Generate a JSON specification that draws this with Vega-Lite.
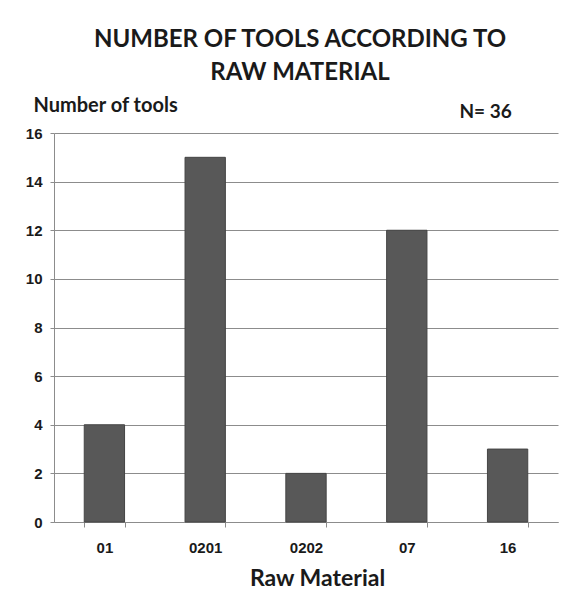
{
  "$schema": "https://vega.github.io/schema/vega-lite/v6.json",
  "autosize": {"type": "none"},
  "width": 504,
  "height": 389,
  "padding": {"left": 54, "top": 133, "right": 23, "bottom": 81},
  "background": "white",
  "title": {
    "text": ["NUMBER OF TOOLS ACCORDING TO", "RAW MATERIAL"],
    "font": "Lato",
    "fontSize": 24,
    "fontWeight": "bold",
    "color": "#1a1a1a",
    "lineHeight": 33,
    "anchor": "middle",
    "dx": -6,
    "offset": 10
  },
  "data": {
    "values": [
      {"material": "01", "count": 4},
      {"material": "0201", "count": 15},
      {"material": "0202", "count": 2},
      {"material": "07", "count": 12},
      {"material": "16", "count": 3}
    ]
  },
  "layer": [
    {
      "mark": {"type": "bar", "color": "#585858", "stroke": "#444444", "strokeWidth": 1},
      "encoding": {
        "x": {
          "field": "material",
          "type": "nominal",
          "sort": null,
          "scale": {"paddingInner": 0.6, "paddingOuter": 0.3},
          "axis": {
            "title": "Raw Material",
            "titleFont": "Lato",
            "titleFontSize": 23,
            "titleFontWeight": "bold",
            "titleColor": "#1a1a1a",
            "titleX": 263,
            "titleY": 63,
            "titleAlign": "center",
            "titleBaseline": "alphabetic",
            "labelAngle": 0,
            "labelFont": "Liberation Sans",
            "labelFontSize": 15,
            "labelFontWeight": "bold",
            "labelColor": "#1a1a1a",
            "labelPadding": 13,
            "tickBand": "extent",
            "tickSize": 5,
            "tickColor": "#8c8c8c",
            "domainColor": "#8c8c8c",
            "grid": false
          }
        },
        "y": {
          "field": "count",
          "type": "quantitative",
          "scale": {"domain": [0, 16], "nice": false},
          "axis": {
            "title": "Number of tools",
            "titleFont": "Lato",
            "titleFontSize": 20,
            "titleFontWeight": "bold",
            "titleColor": "#1a1a1a",
            "titleAngle": 0,
            "titleAlign": "left",
            "titleBaseline": "alphabetic",
            "titleX": -21,
            "titleY": -22,
            "values": [0, 2, 4, 6, 8, 10, 12, 14, 16],
            "labelFont": "Liberation Sans",
            "labelFontSize": 15,
            "labelFontWeight": "bold",
            "labelColor": "#1a1a1a",
            "labelPadding": 8,
            "tickSize": 4,
            "tickColor": "#8c8c8c",
            "domainColor": "#8c8c8c",
            "gridColor": "#8c8c8c",
            "gridOpacity": 1
          }
        }
      }
    },
    {
      "data": {"values": [{"material": "16", "count": 16, "label": "N= 36"}]},
      "mark": {"type": "text", "font": "Lato", "fontSize": 19, "fontWeight": "bold", "color": "#1a1a1a", "align": "center", "baseline": "alphabetic", "dx": -22, "dy": -15},
      "encoding": {
        "x": {"field": "material", "type": "nominal"},
        "y": {"field": "count", "type": "quantitative"},
        "text": {"field": "label"}
      }
    }
  ],
  "config": {"view": {"stroke": null}}
}
